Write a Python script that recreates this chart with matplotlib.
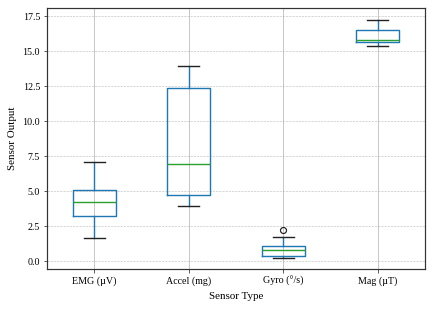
import matplotlib.pyplot as plt

plt.rcParams['font.family'] = ['Liberation Serif', 'DejaVu Serif']

#----------data----------
sensors = ["EMG (µV)", "Accel (mg)", "Gyro (°/s)", "Mag (µT)"]
whisker_low = [1.63, 3.97, 0.27, 15.37]
q1 = [3.23, 4.71, 0.36, 15.65]
median = [4.23, 6.93, 0.79, 15.82]
q3 = [5.09, 12.36, 1.08, 16.49]
whisker_high = [7.10, 13.96, 1.77, 17.25]
outliers = [[], [], [2.27], []]

stats = []
for i, name in enumerate(sensors):
    stats.append(dict(label=name, whislo=whisker_low[i], q1=q1[i], med=median[i],
                      q3=q3[i], whishi=whisker_high[i], fliers=outliers[i]))

#----------plot----------
fig, ax = plt.subplots(figsize=(6, 4.32), dpi=72)
fig.subplots_adjust(left=47 / 432, right=425 / 432, top=1 - 8 / 311, bottom=1 - 269 / 311)

ax.bxp(stats, widths=0.45,
       boxprops=dict(color='#1f77b4', linewidth=1.4),
       whiskerprops=dict(color='#1f77b4', linewidth=1.4),
       medianprops=dict(color='#2ca02c', linewidth=1.4),
       capprops=dict(color='#222222', linewidth=1.4),
       flierprops=dict(marker='o', markerfacecolor='none', markeredgecolor='#222222',
                       markersize=6, markeredgewidth=1.2))

ax.xaxis.grid(True, color='#c8c8c8', linewidth=1.0)
ax.yaxis.grid(True, color='#b0b0b0', linestyle='--', linewidth=0.6, alpha=0.8)
ax.set_axisbelow(True)
for sp in ax.spines.values():
    sp.set_color('#333333')
    sp.set_linewidth(1.2)

ax.set_ylim(-0.55, 18.1)
ax.set_xlabel("Sensor Type", fontsize=11, labelpad=6)
ax.set_ylabel("Sensor Output", fontsize=11, labelpad=5)
ax.tick_params(labelsize=10, color='#333333')

fig.savefig("out.png", dpi=72)
